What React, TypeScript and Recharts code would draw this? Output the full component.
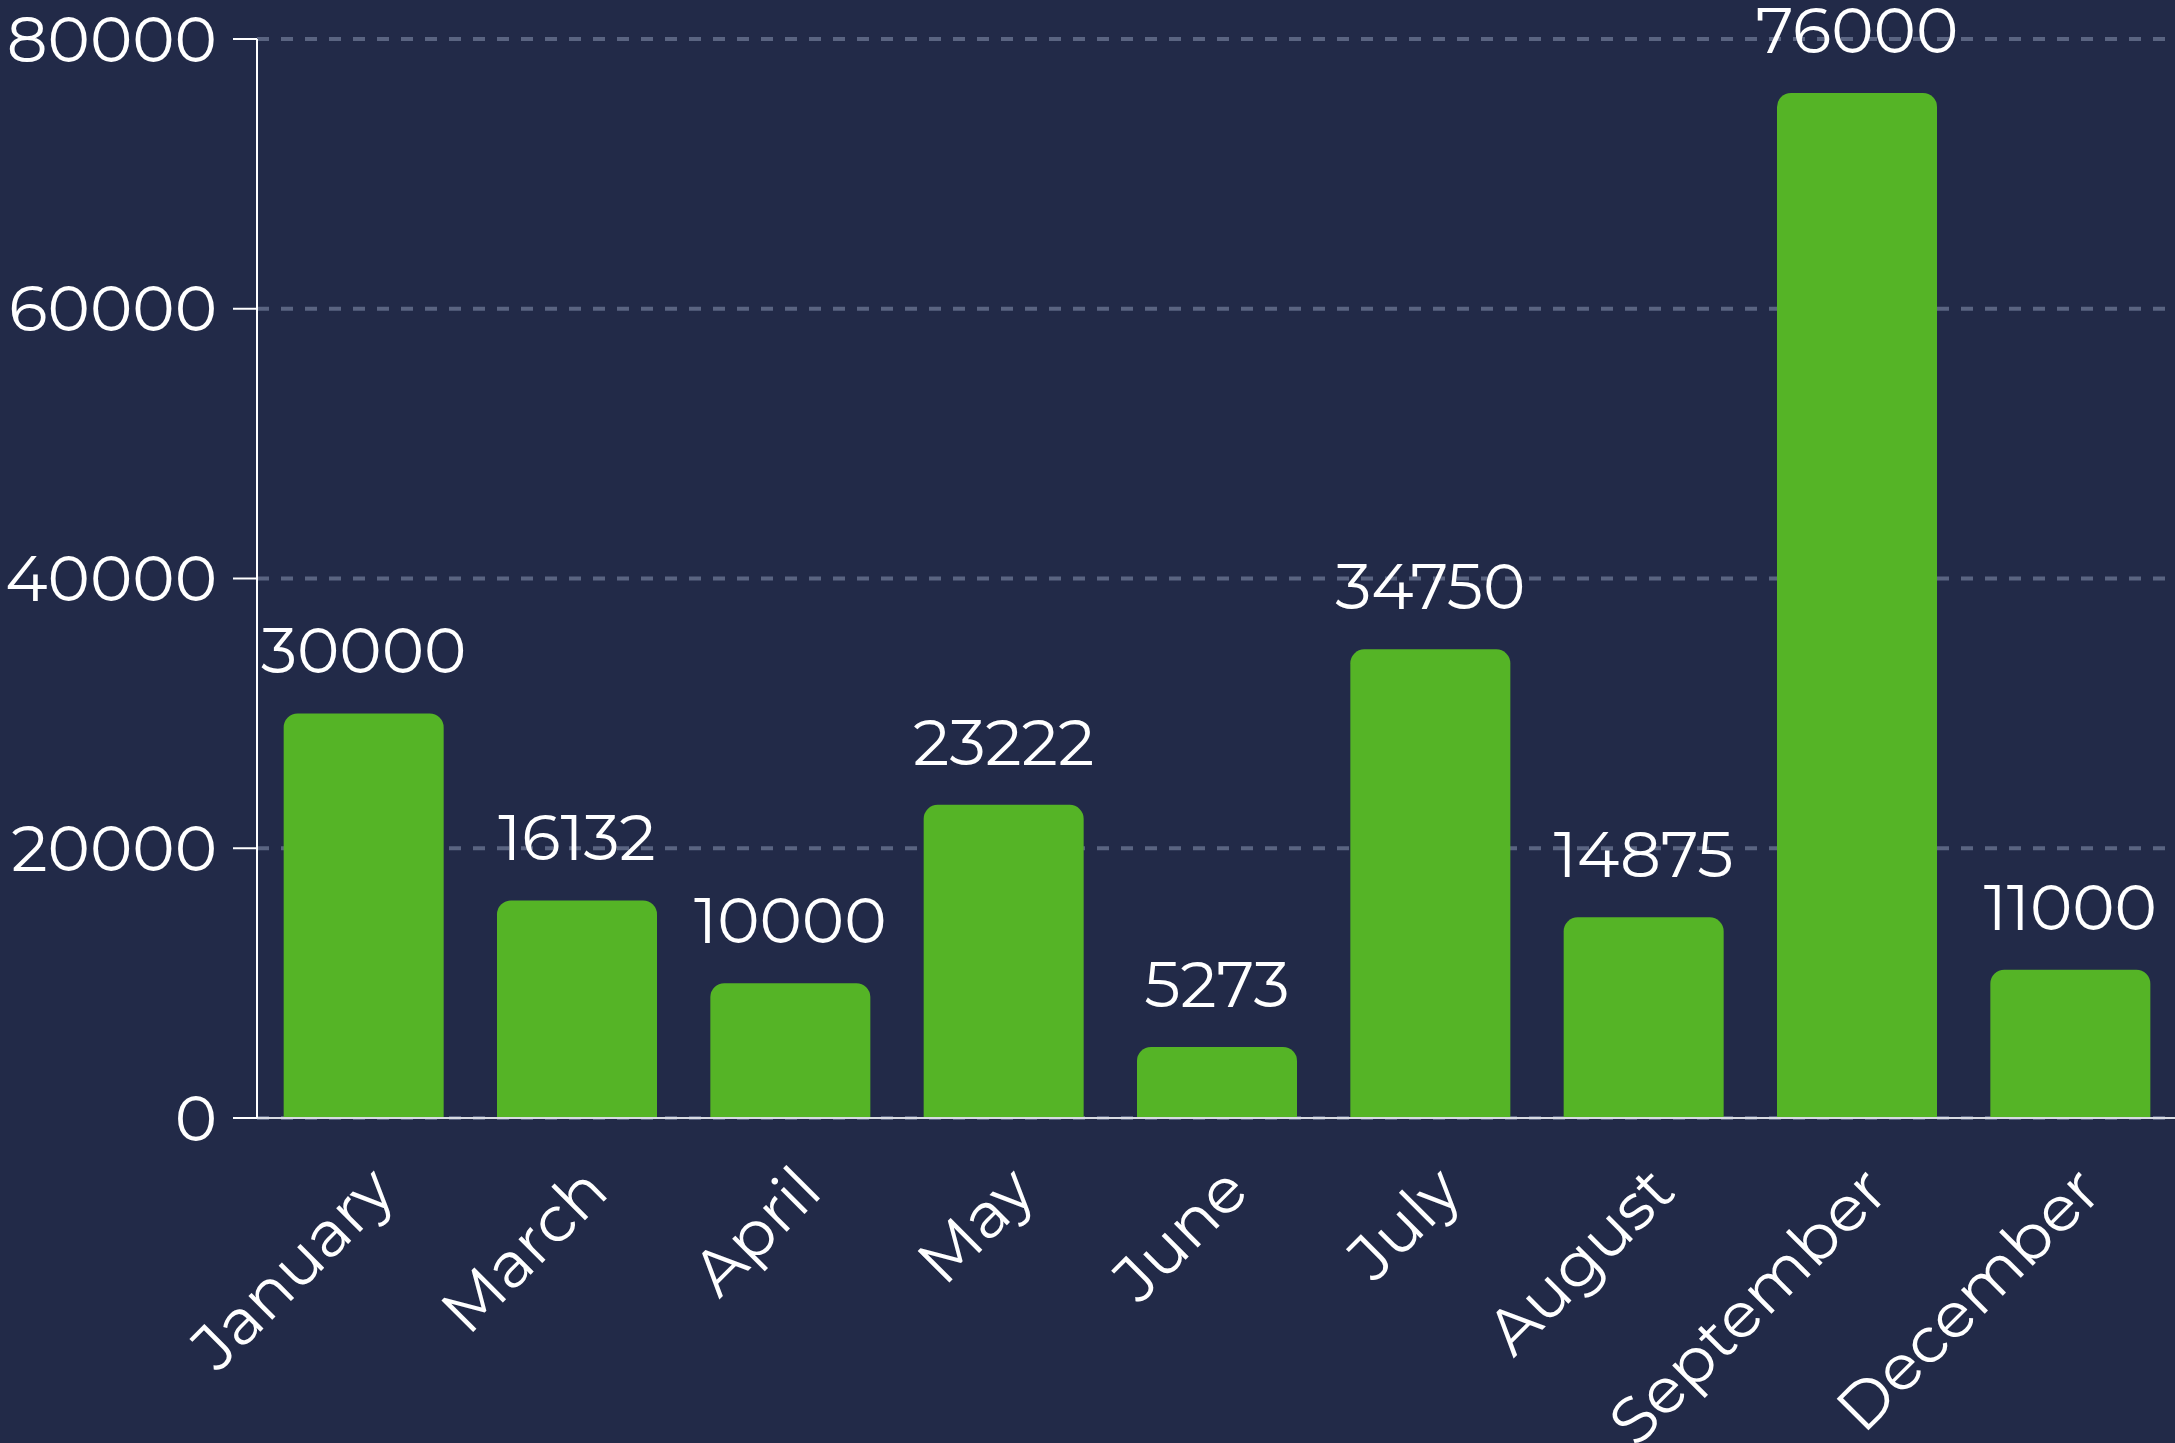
import { Bar, BarChart, CartesianGrid, LabelList, XAxis, YAxis } from "recharts";

const months = ["January", "March", "April", "May", "June", "July", "August", "September", "December"];
const totals = [30000, 16132, 10000, 23222, 5273, 34750, 14875, 76000, 11000];
const yTicks = [0, 20000, 40000, 60000, 80000];

const data = months.map((month, i) => ({ month, total: totals[i] }));

const font = "Montserrat, 'DejaVu Sans', sans-serif";

export default function App() {
  return (
    <div style={{ position: "absolute", left: 0, top: 0, width: 2175, height: 1443, background: "#222a48", overflow: "hidden" }}>
      <BarChart
        width={2177}
        height={1443}
        data={data}
        margin={{ top: 39, right: 0, left: 0, bottom: 0 }}
        barCategoryGap="12.5%"
      >
        <CartesianGrid stroke="#5a6481" strokeWidth={4} strokeDasharray="12 12" vertical={false} />
        <XAxis
          dataKey="month"
          height={325}
          interval={0}
          tickLine={false}
          tickSize={6}
          tickMargin={38}
          axisLine={{ stroke: "#d8dbe2", strokeWidth: 2 }}
          tick={{ fill: "#ffffff", fontSize: 64, fontFamily: font, angle: -45, textAnchor: "end", dx: 2 }}
        />
        <YAxis
          width={257}
          domain={[0, 80000]}
          ticks={yTicks}
          tickSize={24}
          tickMargin={16}
          tickLine={{ stroke: "#ffffff", strokeWidth: 2 }}
          axisLine={{ stroke: "#ffffff", strokeWidth: 2 }}
          tick={{ fill: "#ffffff", fontSize: 64, fontFamily: font }}
        />
        <Bar dataKey="total" fill="#55b426" radius={[14, 14, 0, 0]} isAnimationActive={false}>
          <LabelList dataKey="total" position="top" offset={40} fill="#ffffff" fontSize={64} fontFamily={font} />
        </Bar>
      </BarChart>
    </div>
  );
}
